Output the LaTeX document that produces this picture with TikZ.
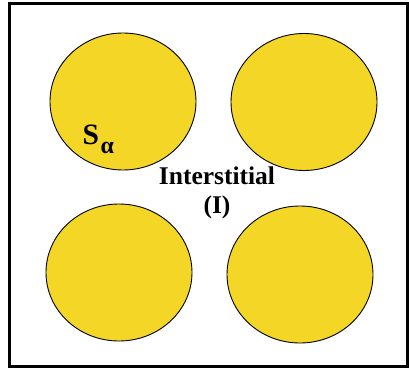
\documentclass[tikz,border=0pt]{standalone}
\usepackage{fontspec}
\setmainfont{Liberation Serif}
\usetikzlibrary{shapes.geometric}
\definecolor{grainyellow}{RGB}{244,214,38}
\begin{document}
\begin{tikzpicture}[
    x=1pt, y=-1pt,
    grain/.style={draw, ellipse, fill=grainyellow, line width=0.9pt,
                  minimum width=146pt, minimum height=137pt, inner sep=0pt},
    lbl/.style={align=center, inner sep=0pt,
                font=\bfseries\fontsize{25.5}{29.3}\selectfont},
    frame/.style={draw, line width=3pt},
]
\useasboundingbox (0,0) rectangle (409,369);
% outer box
\draw[frame] (9.5,4) rectangle (407.5,366.5);

% Row 1: upper grains
\node[grain] (g1) at (123,101.5) {};
\node[grain] (g2) at (304,102) {};

% Row 2: lower grains
\node[grain] (g3) at (119,272.5) {};
\node[grain] (g4) at (300,274.5) {};

% labels
\node[anchor=base west, inner sep=0pt, font=\bfseries\fontsize{29.5}{29}\selectfont]
    (salpha) at (82.5,144) {S\kern1.5pt\raisebox{-9.5pt}{\fontsize{24}{24}\selectfont α}};
\node[lbl, anchor=base] (inter) at (217,213.5) {Interstitial\\(I)};
\end{tikzpicture}
\end{document}
